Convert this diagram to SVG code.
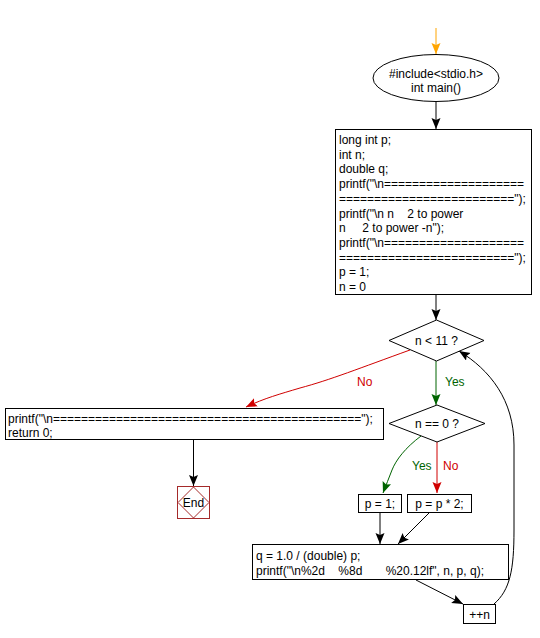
<svg xmlns="http://www.w3.org/2000/svg" width="540" height="638" viewBox="0 0 540 638">
<style>
text{font-family:"Liberation Sans",Arial,sans-serif;font-size:12px;fill:#000;white-space:pre}
.box{fill:#fff;stroke:#000;stroke-width:1}
.ln{fill:none;stroke:#000;stroke-width:1}
.red{stroke:#d00000}
.grn{stroke:#006400}
.lblr{fill:#d00000}
.lblg{fill:#006400}
</style>
<defs>
<marker id="ak" markerUnits="userSpaceOnUse" markerWidth="12" markerHeight="10" refX="11" refY="4.5" orient="auto"><path d="M0,0 L11,4.5 L0,9 L2,4.5 Z" fill="#000"/></marker>
<marker id="ar" markerUnits="userSpaceOnUse" markerWidth="12" markerHeight="10" refX="11" refY="4.5" orient="auto"><path d="M0,0 L11,4.5 L0,9 L2,4.5 Z" fill="#d00000"/></marker>
<marker id="ag" markerUnits="userSpaceOnUse" markerWidth="12" markerHeight="10" refX="11" refY="4.5" orient="auto"><path d="M0,0 L11,4.5 L0,9 L2,4.5 Z" fill="#006400"/></marker>
<marker id="ao" markerUnits="userSpaceOnUse" markerWidth="12" markerHeight="10" refX="11" refY="4.5" orient="auto"><path d="M0,0 L11,4.5 L0,9 L2,4.5 Z" fill="#ffa500"/></marker>
</defs>
<g id="connectors">
<path d="M436,28 L436,54" class="ln" style="stroke:#ffa500" marker-end="url(#ao)"/>
<path d="M436,102 L436,129" class="ln" marker-end="url(#ak)"/>
<path d="M436,295 L436,320" class="ln" marker-end="url(#ak)"/>
<path d="M436,361 L436,405" class="ln grn" marker-end="url(#ag)"/>
<path d="M410,350 C360,368 330,380 300,388 C280,394 265,398 246,407" class="ln red" marker-end="url(#ar)"/>
<path d="M193.5,440 L193.5,486" class="ln" marker-end="url(#ak)"/>
<path d="M421,436 C405,448 396,460 392,470 C389,478 386,485 383,493" class="ln grn" marker-end="url(#ag)"/>
<path d="M437,442 L437,493" class="ln red" marker-end="url(#ar)"/>
<path d="M380,513 L380,544" class="ln" marker-end="url(#ak)"/>
<path d="M429,513 L398,544" class="ln" marker-end="url(#ak)"/>
<path d="M416,580 L463,604" class="ln" marker-end="url(#ak)"/>
<path d="M494,604 C510,590 514,570 514,530 L514,445 C514,400 490,370 459,351" class="ln" marker-end="url(#ak)"/>
</g>
<g id="start">
<ellipse cx="436" cy="78" rx="63" ry="23.5" class="box"/>
<text x="436" y="78" text-anchor="middle">#include&lt;stdio.h&gt;</text>
<text x="436" y="92" text-anchor="middle">int main()</text>
</g>
<g id="init">
<rect x="335.5" y="129.5" width="196" height="165" class="box"/>
<text x="339" y="144">long int p;</text>
<text x="339" y="158.7">int n;</text>
<text x="339" y="173.4">double q;</text>
<text x="339" y="188.1">printf("\n====================</text>
<text x="339" y="202.8">=========================");</text>
<text x="339" y="217.5">printf("\n n    2 to power</text>
<text x="339" y="232.2">n     2 to power -n");</text>
<text x="339" y="246.9">printf("\n====================</text>
<text x="339" y="261.6">=========================");</text>
<text x="339" y="276.3">p = 1;</text>
<text x="339" y="291">n = 0</text>
</g>
<g id="cond1">
<polygon points="436.5,320 484,340.5 436.5,361 389,340.5" class="box"/>
<text x="436.5" y="345" text-anchor="middle">n &lt; 11 ?</text>
</g>
<g id="labels">
<text x="445" y="386" class="lblg">Yes</text>
<text x="357" y="386" class="lblr">No</text>
<text x="412" y="470" class="lblg">Yes</text>
<text x="443" y="470" class="lblr">No</text>
</g>
<g id="final">
<rect x="5.5" y="408.5" width="378" height="31" class="box"/>
<text x="8" y="423">printf("\n============================================");</text>
<text x="8" y="437">return 0;</text>
</g>
<g id="end">
<rect x="177.5" y="486.5" width="32" height="32" style="fill:#fff;stroke:#a52a2a"/>
<polygon points="193.5,487 209,502.5 193.5,518 178,502.5" style="fill:none;stroke:#a52a2a"/>
<text x="193.5" y="507" text-anchor="middle">End</text>
</g>
<g id="cond2">
<polygon points="437,405 485,423.5 437,442 389,423.5" class="box"/>
<text x="437" y="428" text-anchor="middle">n == 0 ?</text>
</g>
<g id="p1">
<rect x="358.5" y="494.5" width="43" height="18" class="box"/>
<text x="380" y="508" text-anchor="middle">p = 1;</text>
</g>
<g id="p2">
<rect x="407.5" y="494.5" width="64" height="18" class="box"/>
<text x="439.5" y="508" text-anchor="middle">p = p * 2;</text>
</g>
<g id="calc">
<rect x="252.5" y="544.5" width="256" height="35" class="box"/>
<text x="256" y="560">q = 1.0 / (double) p;</text>
<text x="256" y="575">printf("\n%2d    %8d       %20.12lf", n, p, q);</text>
</g>
<g id="inc">
<rect x="463.5" y="604.5" width="32" height="19" class="box"/>
<text x="479.5" y="619" text-anchor="middle">++n</text>
</g>
</svg>
